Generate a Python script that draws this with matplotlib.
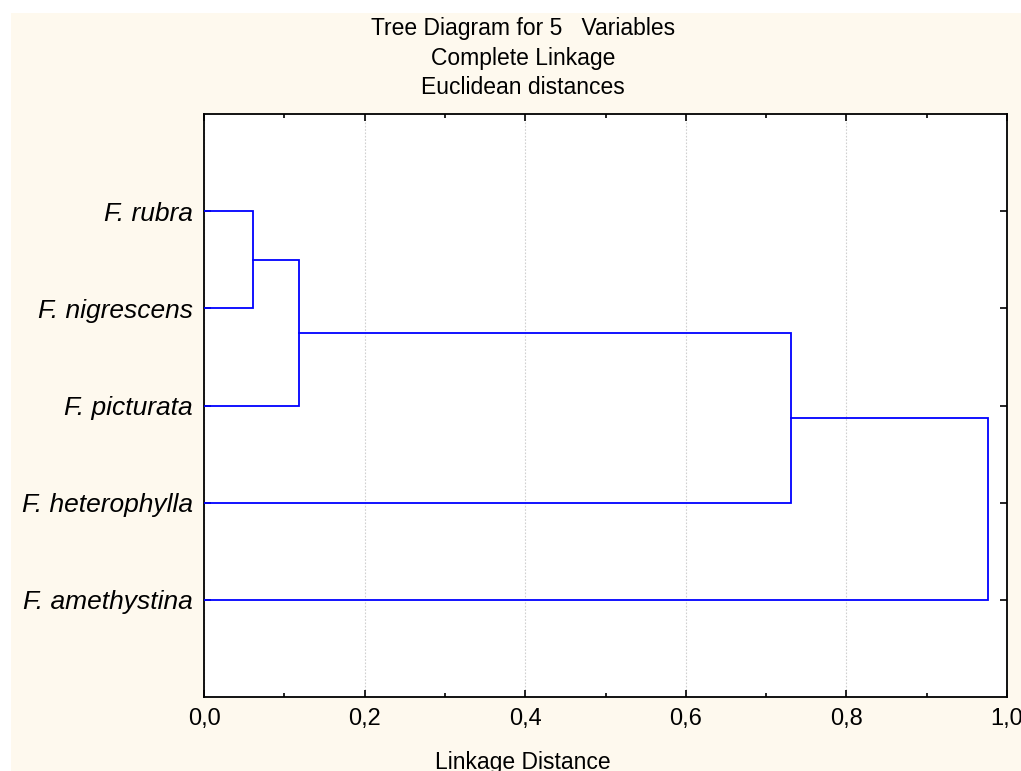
import matplotlib
matplotlib.use("Agg")
import matplotlib.pyplot as plt
from matplotlib.patches import Rectangle
from matplotlib.ticker import FuncFormatter, MultipleLocator

plt.rcParams["font.family"] = ["Liberation Sans", "DejaVu Sans"]

# leaves, top to bottom
species = ["F. rubra", "F. nigrescens", "F. picturata", "F. heterophylla", "F. amethystina"]
# merges: (left member, right member, linkage distance); members >= 5 are earlier clusters
merges = [
    (0, 1, 0.061),
    (5, 2, 0.118),
    (6, 3, 0.731),
    (7, 4, 0.976),
]
x_ticks = [0.0, 0.2, 0.4, 0.6, 0.8, 1.0]

title_lines = ["Tree Diagram for 5   Variables", "Complete Linkage", "Euclidean distances"]
x_label = "Linkage Distance"

W, H = 1021, 771
fig = plt.figure(figsize=(W / 100, H / 100), dpi=100, facecolor="white")
fig.patches.append(Rectangle((11 / W, 0), 1.0, 1 - 13 / H, transform=fig.transFigure,
                             facecolor="#FEF9EE", edgecolor="none", zorder=-10))

left, right, top, bottom = 204, 1007, 114, 697
ax = fig.add_axes([left / W, 1 - bottom / H, (right - left) / W, (bottom - top) / H])
ax.set_facecolor("white")

# positions: leaves at 1..5, cluster nodes appended as merges happen
ypos = [i + 1 for i in range(len(species))]
xpos = [0.0] * len(species)
for a, b, d in merges:
    ax.plot([xpos[a], d, d, xpos[b]], [ypos[a], ypos[a], ypos[b], ypos[b]],
            color="#0000FF", lw=1.3, solid_joinstyle="miter", zorder=3)
    ypos.append((ypos[a] + ypos[b]) / 2)
    xpos.append(d)

ax.set_xlim(0, 1.0)
ax.set_ylim(len(species) + 1, 0)
ax.set_xticks(x_ticks)
ax.xaxis.set_minor_locator(MultipleLocator(0.1))
ax.xaxis.set_major_formatter(FuncFormatter(lambda v, p: f"{v:.1f}".replace(".", ",")))
ax.set_yticks(range(1, len(species) + 1))
ax.set_yticklabels(species, fontstyle="italic", fontsize=19)
ax.tick_params(axis="x", which="major", direction="in", length=5, width=1.2, top=True,
               labelsize=17, pad=8)
ax.tick_params(axis="x", which="minor", direction="in", length=3, width=1.2, top=True)
ax.tick_params(axis="y", direction="in", length=5, width=1.2, right=True, pad=8)
ax.grid(True, axis="x", which="major", color="#d0d0d0", linestyle=(0, (1.5, 1.5)), lw=0.8)
for s in ax.spines.values():
    s.set_linewidth(1.3)
    s.set_color("black")

for i, line in enumerate(title_lines):
    fig.text(523 / W, 1 - (28 + 30 * i) / H, line, ha="center", va="center", fontsize=16.5)
fig.text(523 / W, 1 - 762 / H, x_label, ha="center", va="center", fontsize=16.5)

fig.savefig("out.png", dpi=100, facecolor=fig.get_facecolor())
